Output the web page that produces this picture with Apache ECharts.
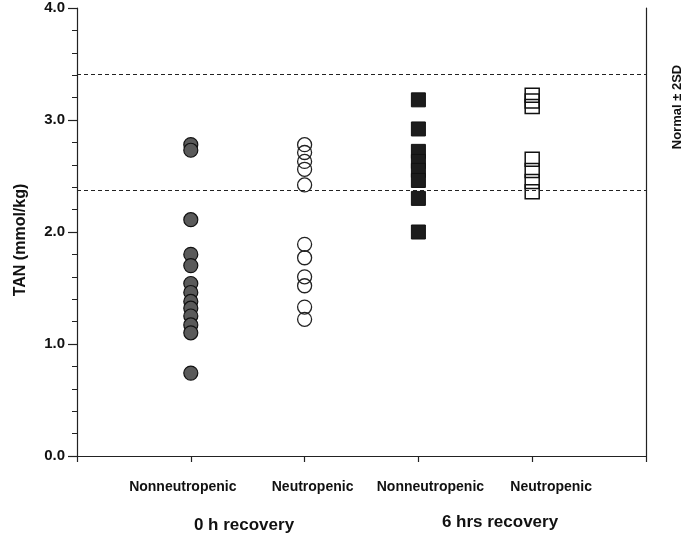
<!DOCTYPE html>
<html><head><meta charset="utf-8">
<script src="https://cdn.jsdelivr.net/npm/echarts@6/dist/echarts.min.js"></script>
<style>html,body{margin:0;padding:0;background:#fff}#c{width:685px;height:539px}</style>
</head><body><div id="c"></div>
<script>
var categories = ['Nonneutropenic', 'Neutropenic', 'Nonneutropenic', 'Neutropenic'];
var groups = ['0 h recovery', '6 hrs recovery'];
var yTicks = [0, 1, 2, 3, 4];
var normalBand = [3.41, 2.37];
var nonNeut0h = [2.78, 2.73, 2.11, 1.80, 1.70, 1.54, 1.46, 1.38, 1.32, 1.25, 1.17, 1.10, 0.74];
var neut0h = [2.78, 2.71, 2.63, 2.56, 2.42, 1.89, 1.77, 1.60, 1.52, 1.33, 1.22];
var nonNeut6h = [3.18, 2.92, 2.72, 2.63, 2.55, 2.46, 2.30, 2.00];
var neut6h = [3.22, 3.17, 3.12, 2.65, 2.55, 2.45, 2.36];

var FONT = '"Liberation Sans", Arial, sans-serif';
function pts(pos, arr) { return arr.map(function (v) { return [pos, v]; }); }
function rs(pad) { return { padding: pad, fontFamily: FONT, fontWeight: 'bold', fontSize: 14, color: '#111' }; }

var chart = echarts.init(document.getElementById('c'), null, { renderer: 'canvas' });
chart.setOption({
  animation: false,
  backgroundColor: '#fff',
  grid: { left: 77, right: 39, top: 8, bottom: 83 },
  xAxis: {
    type: 'value', min: 0, max: 5, interval: 1,
    splitLine: { show: false },
    axisLine: { show: true, lineStyle: { color: '#222', width: 1.2 } },
    axisTick: { show: true, length: 6, lineStyle: { color: '#222', width: 1.2 } },
    axisLabel: {
      margin: 24, fontFamily: FONT, fontWeight: 'bold', fontSize: 14, color: '#111',
      formatter: function (v) {
        if (v >= 1 && v <= 4) return '{c' + v + '|' + categories[v - 1] + '}';
        return '';
      },
      rich: {
        c1: rs([0, 16, 0, 0]),
        c2: rs([0, 0, 0, 16]),
        c3: rs([0, 0, 0, 24]),
        c4: rs([0, 0, 0, 38])
      }
    }
  },
  yAxis: [{
    type: 'value', min: yTicks[0], max: yTicks[yTicks.length - 1], interval: 1,
    splitLine: { show: false },
    axisLine: { show: true, lineStyle: { color: '#222', width: 1.2 } },
    axisTick: { show: true, length: 9, lineStyle: { color: '#222', width: 1.2 } },
    minorTick: { show: true, splitNumber: 5, length: 5, lineStyle: { color: '#222', width: 1 } },
    axisLabel: {
      margin: 12, fontFamily: FONT, fontWeight: 'bold', fontSize: 15, color: '#111',
      formatter: function (v) { return v.toFixed(1); }
    }
  }, {
    type: 'value', min: 0, max: 4, position: 'right',
    splitLine: { show: false },
    axisLine: { show: true, lineStyle: { color: '#222', width: 1.2 } },
    axisTick: { show: false }, axisLabel: { show: false }
  }],
  series: [
    {
      type: 'scatter', data: pts(1, nonNeut0h), symbol: 'circle', symbolSize: 14,
      itemStyle: { color: '#5a5a5a', borderColor: '#111', borderWidth: 1.2, opacity: 1 },
      markLine: {
        silent: true, symbol: ['none', 'none'], label: { show: false },
        lineStyle: { color: '#222', type: [4, 3], width: 1.2 },
        data: normalBand.map(function (v) { return { yAxis: v }; })
      }
    },
    {
      type: 'scatter', data: pts(2, neut0h), symbol: 'circle', symbolSize: 14,
      itemStyle: { color: 'rgba(255,255,255,0)', borderColor: '#222', borderWidth: 1.3, opacity: 1 }
    },
    {
      type: 'scatter', data: pts(3, nonNeut6h), symbol: 'rect', symbolSize: 14,
      itemStyle: { color: '#1c1c1c', borderColor: '#111', borderWidth: 1, opacity: 1 }
    },
    {
      type: 'scatter', data: pts(4, neut6h), symbol: 'rect', symbolSize: 14,
      itemStyle: { color: 'rgba(255,255,255,0)', borderColor: '#111', borderWidth: 1.5, opacity: 1 }
    }
  ],
  graphic: [
    { type: 'text', x: 244, y: 525, style: { text: groups[0], font: 'bold 17px ' + FONT, fill: '#111', align: 'center', verticalAlign: 'middle' } },
    { type: 'text', x: 500, y: 522, style: { text: groups[1], font: 'bold 17px ' + FONT, fill: '#111', align: 'center', verticalAlign: 'middle' } },
    { type: 'text', x: 21, y: 240, rotation: Math.PI / 2,
      style: { text: 'TAN (mmol/kg)', font: 'bold 16px ' + FONT, fill: '#111', align: 'center', verticalAlign: 'middle' } },
    { type: 'text', x: 677, y: 107, rotation: Math.PI / 2,
      style: { text: 'Normal \u00b1 2SD', font: 'bold 13px ' + FONT, fill: '#111', align: 'center', verticalAlign: 'middle' } }
  ]
});
</script></body></html>
